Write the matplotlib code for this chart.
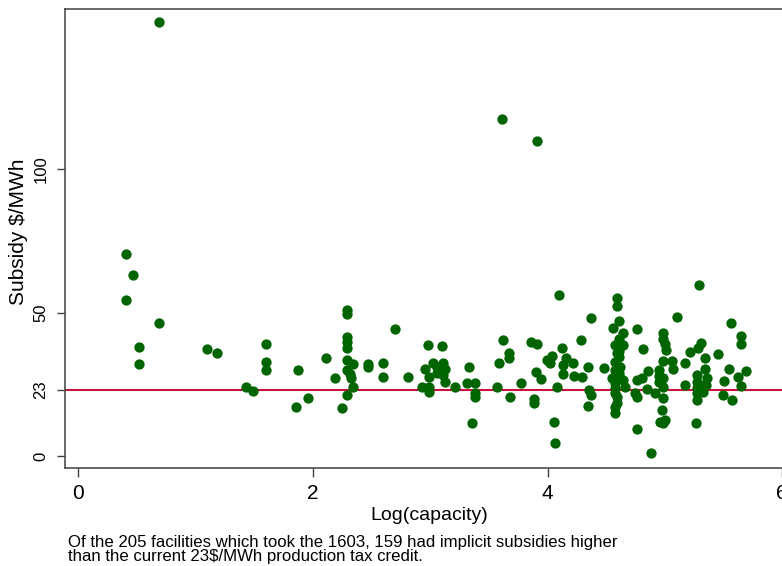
import matplotlib
matplotlib.use("Agg")
import matplotlib.pyplot as plt

plt.rcParams['font.family'] = ['Liberation Sans', 'DejaVu Sans']

# log(capacity) and implied subsidy ($/MWh)
log_cap = [0.689, 3.608, 3.906, 0.402, 0.467, 0.402, 0.689, 0.519, 0.519, 1.095,
           1.183, 1.428, 1.490, 1.596, 1.596, 1.596, 1.871, 1.857, 1.954, 2.107,
           2.184, 2.249, 2.289, 2.289, 2.289, 2.289, 2.289, 2.289, 2.337, 2.289,
           2.323, 2.337, 2.289, 2.315, 2.471, 2.471, 2.593, 2.593, 2.696, 2.806,
           2.980, 3.102, 2.957, 3.025, 3.054, 3.105, 3.127, 2.985, 3.054, 3.110,
           3.127, 2.928, 2.985, 2.985, 3.213, 3.332, 3.315, 3.383, 3.383, 3.383,
           3.355, 3.570, 3.585, 3.616, 3.673, 3.673, 3.681, 3.770, 3.855, 3.906,
           3.883, 3.883, 3.898, 3.943, 3.991, 4.034, 4.020, 4.079, 4.051, 4.065,
           4.096, 4.119, 4.156, 4.133, 4.128, 4.218, 4.227, 4.292, 4.286, 4.341,
           4.350, 4.367, 4.344, 4.367, 4.477]
subsidy = [151.5, 117.7, 109.9, 70.5, 63.3, 54.4, 46.3, 38.1, 32.0, 37.2,
           35.8, 24.2, 22.7, 39.1, 32.7, 29.9, 30.0, 17.2, 20.1, 34.2,
           27.1, 16.6, 50.9, 49.4, 41.6, 39.9, 37.8, 33.5, 32.1, 30.0,
           27.1, 24.0, 21.4, 28.6, 32.1, 30.9, 32.3, 27.7, 44.4, 27.5,
           38.8, 38.5, 30.4, 32.6, 30.9, 32.3, 30.2, 27.7, 28.9, 28.3,
           25.9, 24.0, 24.0, 22.4, 24.0, 30.9, 25.6, 25.6, 21.9, 20.7,
           11.4, 24.2, 32.3, 40.5, 36.0, 34.2, 20.7, 25.5, 39.9, 39.1,
           19.8, 18.6, 29.4, 27.0, 33.5, 34.9, 32.3, 24.0, 12.0, 4.4,
           56.2, 37.8, 34.1, 31.8, 28.6, 32.3, 27.9, 27.7, 40.4, 31.2,
           23.0, 21.3, 17.6, 48.3, 30.7]

# the big group of 100 MW plants (log 100 ~ 4.6)
log_cap_100 = [4.590, 4.590, 4.608, 4.554, 4.645, 4.605, 4.605, 4.645, 4.575, 4.590,
               4.605, 4.575, 4.620, 4.575, 4.550, 4.620, 4.645, 4.575, 4.660, 4.575,
               4.575, 4.590, 4.590, 4.575, 4.575, 4.605, 4.605]
subsidy_100 = [55.2, 52.3, 47.1, 44.8, 43.0, 41.0, 38.7, 38.7, 38.7, 35.8,
               34.4, 32.9, 30.9, 30.0, 27.1, 27.1, 26.5, 25.4, 24.2, 23.6,
               21.9, 20.7, 18.6, 17.2, 14.9, 29.0, 36.5]

log_cap_big = [4.764, 4.764, 4.744, 4.764, 4.764, 4.810, 4.801, 4.858, 4.849, 4.915,
               4.881, 4.986, 4.986, 5.000, 5.006, 4.986, 5.057, 5.066, 4.951, 4.951,
               4.986, 4.951, 4.986, 4.986, 4.972, 4.957, 5.000, 4.986, 5.100, 5.170,
               5.170, 5.213, 5.284, 5.307, 5.290, 5.270, 5.270, 5.270, 5.270, 5.270,
               5.298, 5.327, 5.361, 5.350, 5.267, 5.341, 5.341, 5.454, 5.497, 5.506,
               5.543, 5.560, 5.568, 5.625, 5.645, 5.650, 5.650, 5.688]
subsidy_big = [44.3, 26.5, 21.9, 20.7, 9.5, 37.2, 27.1, 29.8, 23.3, 21.9,
               1.0, 42.8, 40.8, 39.1, 37.0, 33.3, 33.3, 30.4, 30.0, 27.9,
               27.1, 25.9, 24.2, 20.1, 16.0, 12.0, 12.6, 11.4, 48.4, 32.3,
               24.8, 36.4, 37.6, 39.3, 59.7, 28.3, 25.9, 23.6, 21.9, 19.5,
               24.8, 22.4, 27.1, 24.8, 11.6, 34.2, 30.3, 35.6, 21.3, 26.2,
               30.4, 46.3, 19.5, 27.5, 24.4, 42.0, 39.1, 29.7]

ptc = 23
x_ticks = [0, 2, 4, 6]
y_ticks = [0, 23, 50, 100]

fig = plt.figure(figsize=(7.82, 5.66), dpi=100)
ax = fig.add_axes([65/782, 1 - 467.7/566, 729/782, 458.7/566])

green = '#006400'
for xs, ys in [(log_cap, subsidy), (log_cap_100, subsidy_100), (log_cap_big, subsidy_big)]:
    ax.scatter(xs, ys, s=55, color=green, linewidths=0, zorder=3)

ax.axhline(ptc, color='#c8143c', lw=1.5, zorder=2)

ax.set_xlim(-0.115, 6.1)
ax.set_ylim(-4.08, 156)

ax.set_xticks(x_ticks)
ax.set_xticklabels([str(t) for t in x_ticks], fontsize=15)
ax.set_yticks(y_ticks)
ax.set_yticklabels([str(t) for t in y_ticks], fontsize=12, rotation=90, va='center')
ax.tick_params(axis='x', length=6.5, width=1, color='#404040', pad=5)
ax.tick_params(axis='y', length=6, width=1, color='#404040', pad=6)

for sp in ax.spines.values():
    sp.set_color('#404040')
    sp.set_linewidth(1.1)

ax.set_xlabel('Log(capacity)', fontsize=14, labelpad=3)
ax.set_ylabel('Subsidy $/MWh', fontsize=15)
ax.yaxis.set_label_coords(-0.051, 0.514)

fig.text(68/782, 1 - 547/566,
         'Of the 205 facilities which took the 1603, 159 had implicit subsidies higher',
         fontsize=12.1, va='baseline', ha='left')
fig.text(68/782, 1 - 561.5/566,
         'than the current 23$/MWh production tax credit.',
         fontsize=12.1, va='baseline', ha='left')

fig.savefig('out.png', dpi=100)
